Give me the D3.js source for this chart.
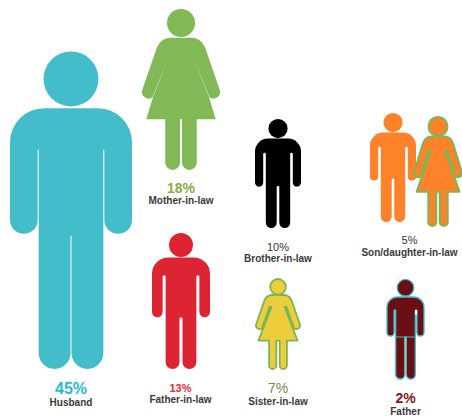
<!DOCTYPE html>
<html>
<head>
<meta charset="utf-8">
<style>
  html, body { margin: 0; padding: 0; background: #fff; }
  svg { display: block; }
  text { font-family: "Liberation Sans", Arial, sans-serif; text-anchor: middle; }
</style>
<script src="https://cdn.jsdelivr.net/npm/d3@7"></script>
</head>
<body>
<svg id="chart" width="462" height="418"></svg>
<script>
// share of each relative, in percent
var categories = ['Husband', 'Mother-in-law', 'Father-in-law', 'Brother-in-law',
  'Son/daughter-in-law', 'Sister-in-law', 'Father'];
var values = [45, 18, 13, 10, 5, 7, 2];

var svg = d3.select('#chart');

var man = { head: 0.088, headR: 0.225, shoulder: 0.18, corner: 0.28, slitTop: 0.31, inner: 0.235 };

// where each icon sits, and how it is painted
var icons = {
  'Husband': [{ kind: 'man', x: [10, 132], y: [51, 369], fill: '#42bdc9', slit: 1, armEnd: 0.575, crotch: 0.58 }],
  'Mother-in-law': [{ kind: 'woman', x: [142, 220], y: [9, 170], fill: '#80b955', slit: 0, legGap: 2, seam: '#97c674' }],
  'Father-in-law': [{ kind: 'man', x: [152, 210], y: [233, 369], fill: '#dd2433', slit: 3, armEnd: 0.62, crotch: 0.62 }],
  'Brother-in-law': [{ kind: 'man', x: [255, 301], y: [119, 228], fill: '#000', slit: 2.6, armEnd: 0.62, crotch: 0.615 }],
  'Son/daughter-in-law': [
    { kind: 'man', x: [370, 416], y: [113, 222], fill: '#fd8229', slit: 2.6, armEnd: 0.62, crotch: 0.6 },
    { kind: 'woman', x: [414, 462], y: [117, 226], fill: '#fd8229', stroke: '#7cb654', strokeWidth: 2, slit: 2, legGap: 3.5 }
  ],
  'Sister-in-law': [{ kind: 'woman', x: [256, 300], y: [279, 369], fill: '#ecce3c', stroke: '#7cb654', strokeWidth: 1.8, slit: 2, legGap: 3.5 }],
  'Father': [{ kind: 'man', x: [387, 424], y: [279, 379], fill: '#6a0f14', stroke: '#3dbfca', strokeWidth: 1.3, slit: 1.6, armEnd: 0.57, crotch: 0.58, waist: true, legLine: '#c9b27a', glint: '#fff' }]
};

var labels = {
  'Husband': { x: 71, pctY: 394, nameY: 405.5, size: 16, weight: 'bold', color: '#1dbdd0' },
  'Mother-in-law': { x: 181, pctY: 193, nameY: 204, size: 14, weight: 'bold', color: '#8aab45' },
  'Father-in-law': { x: 180.5, pctY: 392, nameY: 403, size: 11, weight: 'bold', color: '#f2263c' },
  'Brother-in-law': { x: 278, pctY: 250.5, nameY: 261.5, size: 11, weight: 'normal', color: '#333' },
  'Son/daughter-in-law': { x: 409.5, pctY: 244, nameY: 256, size: 11, weight: 'normal', color: '#333' },
  'Sister-in-law': { x: 278, pctY: 392.5, nameY: 404.5, size: 14, weight: 'normal', color: '#85854a' },
  'Father': { x: 405.5, pctY: 402.5, nameY: 415, size: 14, weight: 'bold', color: '#7a1a20' }
};

function drawMan(g, d) {
  var x = d3.scaleLinear().domain([0, 1]).range(d.x);
  var y = d3.scaleLinear().domain([0, 1]).range(d.y);
  var w = d.x[1] - d.x[0];
  var h = d.y[1] - d.y[0];
  var gap = d.slit;
  var rc = man.corner * w;
  var xIn = x(man.inner), xOut = x(1 - man.inner);
  var armR = (xIn - gap - x(0)) / 2;
  var legR = (xOut - xIn - gap) / 4;
  var cx = x(0.5);
  var PI = Math.PI;

  g.append('circle')
    .attr('cx', cx).attr('cy', y(man.head))
    .attr('r', Math.min(man.headR * w, man.head * h));

  var p = d3.path();
  p.moveTo(x(0), y(man.shoulder) + rc);
  p.arc(x(0) + rc, y(man.shoulder) + rc, rc, PI, 1.5 * PI);
  p.lineTo(x(1) - rc, y(man.shoulder));
  p.arc(x(1) - rc, y(man.shoulder) + rc, rc, 1.5 * PI, 0);
  // right arm, slit, right leg
  p.lineTo(x(1), y(d.armEnd) - armR);
  p.arc(x(1) - armR, y(d.armEnd) - armR, armR, 0, PI);
  p.lineTo(xOut + gap, y(man.slitTop) + gap / 2);
  p.arc(xOut + gap / 2, y(man.slitTop) + gap / 2, gap / 2, 0, PI, true);
  p.lineTo(xOut, y(1) - legR);
  p.arc(xOut - legR, y(1) - legR, legR, 0, PI);
  p.lineTo(cx + gap / 2, y(d.crotch) + gap / 2);
  // left leg, slit, left arm
  p.arc(cx, y(d.crotch) + gap / 2, gap / 2, 0, PI, true);
  p.lineTo(cx - gap / 2, y(1) - legR);
  p.arc(xIn + legR, y(1) - legR, legR, 0, PI);
  p.lineTo(xIn, y(man.slitTop) + gap / 2);
  p.arc(xIn - gap / 2, y(man.slitTop) + gap / 2, gap / 2, 0, PI, true);
  p.lineTo(xIn - gap, y(d.armEnd) - armR);
  p.arc(x(0) + armR, y(d.armEnd) - armR, armR, 0, PI);
  p.closePath();
  g.append('path').attr('d', p.toString());

  if (d.waist) {
    g.append('line')
      .attr('x1', xIn).attr('x2', xOut)
      .attr('y1', y(d.crotch)).attr('y2', y(d.crotch))
      .attr('stroke-width', 1);
  }
  if (d.legLine) {
    g.append('line')
      .attr('x1', cx).attr('x2', cx)
      .attr('y1', y(d.crotch) + 1).attr('y2', y(0.96))
      .attr('stroke', d.legLine).attr('stroke-width', 0.8);
  }
  if (d.glint) {
    g.append('line')
      .attr('x1', xOut + gap / 2).attr('x2', xOut + gap / 2)
      .attr('y1', y(man.slitTop)).attr('y2', y(man.slitTop + 0.05))
      .attr('stroke', d.glint).attr('stroke-width', 2);
  }
}

function drawWoman(g, d) {
  var x = d3.scaleLinear().domain([0, 1]).range(d.x);
  var y = d3.scaleLinear().domain([0, 1]).range(d.y);
  var h = d.y[1] - d.y[0];
  var gap = d.slit / 2;
  var PI = Math.PI;
  var cx = x(0.5);
  var legGap = d.legGap / 2;
  var legR = (x(0.702) - x(0.298) - d.legGap) / 4;
  var handR = 0.085 * (d.x[1] - d.x[0]);
  var hem = y(0.685), bottom = y(1) - legR;

  g.append('circle').attr('cx', cx).attr('cy', y(0.087)).attr('r', 0.087 * h);

  // u counts in from the left edge; R is the same u measured from the right
  var L = function(u) { return x(u); };
  var R = function(u) { return x(1 - u); };

  var p = d3.path();
  p.moveTo(L(0.36), y(0.178));
  p.lineTo(R(0.36), y(0.178));
  p.quadraticCurveTo(R(0.24), y(0.18), R(0.19), y(0.24));
  // right arm and hand, arm slit, skirt, right leg
  p.arc(R(0.085), y(0.515), handR, -0.1 * PI, 0.7 * PI);
  p.lineTo(R(0.33) + gap, y(0.31));
  p.lineTo(R(0.33) - gap, y(0.31));
  p.lineTo(R(0.14) - gap, y(0.55));
  p.lineTo(R(0.055), hem);
  p.lineTo(R(0.298), hem);
  p.lineTo(R(0.298), bottom);
  p.arc(R(0.298) - legR, bottom, legR, 0, PI);
  p.lineTo(cx + legGap, hem);
  // left leg, skirt, arm slit, left hand
  p.lineTo(cx - legGap, hem);
  p.lineTo(cx - legGap, bottom);
  p.arc(L(0.298) + legR, bottom, legR, 0, PI);
  p.lineTo(L(0.298), hem);
  p.lineTo(L(0.055), hem);
  p.lineTo(L(0.14) + gap, y(0.55));
  p.lineTo(L(0.33) + gap, y(0.31));
  p.lineTo(L(0.33) - gap, y(0.31));
  p.arc(L(0.085), y(0.515), handR, 0.3 * PI, 1.1 * PI);
  p.lineTo(L(0.19), y(0.24));
  p.quadraticCurveTo(L(0.24), y(0.18), L(0.36), y(0.178));
  p.closePath();
  g.append('path').attr('d', p.toString());

  if (d.seam) {
    g.append('line')
      .attr('x1', R(0.32)).attr('y1', y(0.325))
      .attr('x2', R(0.17)).attr('y2', y(0.52))
      .attr('stroke', d.seam).attr('stroke-width', 0.5);
  }
}

categories.forEach(function(name, i) {
  icons[name].forEach(function(d) {
    var g = svg.append('g')
      .attr('fill', d.fill)
      .attr('stroke', d.stroke || 'none')
      .attr('stroke-width', d.strokeWidth || 0)
      .attr('stroke-linejoin', 'round');
    if (d.kind === 'man') drawMan(g, d); else drawWoman(g, d);
  });

  var l = labels[name];
  svg.append('text')
    .attr('x', l.x).attr('y', l.pctY)
    .attr('font-size', l.size).attr('font-weight', l.weight)
    .attr('fill', l.color)
    .text(values[i] + '%');
  svg.append('text')
    .attr('x', l.x).attr('y', l.nameY)
    .attr('font-size', 10).attr('font-weight', 'bold')
    .attr('fill', '#3a3a3a')
    .text(name);
});
</script>
</body>
</html>
